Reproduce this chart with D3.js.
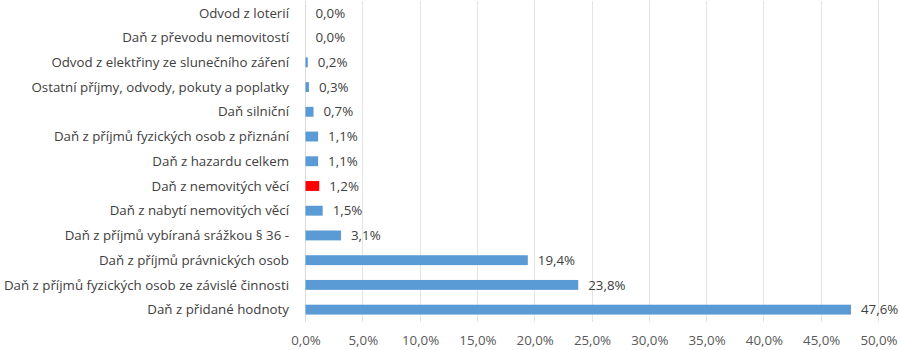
<!DOCTYPE html>
<html><head><meta charset="utf-8">
<script src="https://cdn.jsdelivr.net/npm/d3@7"></script>
<style>body{margin:0;background:#fff}svg{display:block}text{font-family:"Open Sans",sans-serif}</style>
</head><body><svg id="c" width="900" height="350"></svg>
<script>
const categories = ["Odvod z loterií","Daň z převodu nemovitostí","Odvod z elektřiny ze slunečního záření","Ostatní příjmy, odvody, pokuty a poplatky","Daň silniční","Daň z příjmů fyzických osob z přiznání","Daň z hazardu celkem","Daň z nemovitých věcí","Daň z nabytí nemovitých věcí","Daň z příjmů vybíraná srážkou § 36 -","Daň z příjmů právnických osob","Daň z příjmů fyzických osob ze závislé činnosti","Daň z přidané hodnoty"];
const values = [0.0,0.0,0.2,0.3,0.7,1.1,1.1,1.2,1.5,3.1,19.4,23.8,47.6];
const highlight = ["Daň z nemovitých věcí"];
const xTicks = [0,5,10,15,20,25,30,35,40,45,50];

const svg = d3.select("#c");
const m = {left:305.5, right:21.5, top:0.5, bottom:28};
const W = 900, H = 350;
const fs = 13.3;
const x = d3.scaleLinear().domain([0,50]).range([m.left, W-m.right]);
const y = d3.scaleBand().domain(categories).range([m.top, H-m.bottom]).paddingInner(0.6).paddingOuter(0.3);
const fmt = v => d3.format(".1f")(v).replace(".", ",") + "%";

// gridlines
svg.append("g").selectAll("line").data(xTicks).join("line")
  .attr("x1", d=>x(d)).attr("x2", d=>x(d))
  .attr("y1", m.top).attr("y2", H-m.bottom)
  .attr("stroke", d=> d===0 ? "#d9d9d9" : "#e4e4e4").attr("stroke-width",1)
  .attr("shape-rendering","crispEdges");

// bars
svg.append("g").selectAll("rect").data(values).join("rect")
  .attr("x", x(0))
  .attr("y", (d,i)=>y(categories[i]))
  .attr("width", d=>x(d)-x(0))
  .attr("height", y.bandwidth())
  .attr("fill", (d,i)=> highlight.includes(categories[i]) ? "#ff0000" : "#5b9bd5");

// value labels
svg.append("g").selectAll("text").data(values).join("text")
  .attr("x", d=>x(d)+10)
  .attr("y", (d,i)=>y(categories[i])+y.bandwidth()/2)
  .attr("dy","0.35em")
  .attr("font-size",fs).attr("fill","#404040")
  .text(d=>fmt(d));

// category axis labels
svg.append("g").selectAll("text").data(categories).join("text")
  .attr("x", 289)
  .attr("y", d=>y(d)+y.bandwidth()/2)
  .attr("dy","0.35em").attr("text-anchor","end")
  .attr("font-size",fs).attr("fill","#404040")
  .text(d=>d);

// x axis
const xa = svg.append("g").attr("transform",`translate(0,${H-m.bottom})`)
  .call(d3.axisBottom(x).tickValues(xTicks).tickFormat(fmt).tickSize(0).tickPadding(14));
xa.select(".domain").remove();
xa.selectAll("text").attr("font-size",fs).attr("fill","#595959").attr("font-family","Open Sans, sans-serif");
</script></body></html>
